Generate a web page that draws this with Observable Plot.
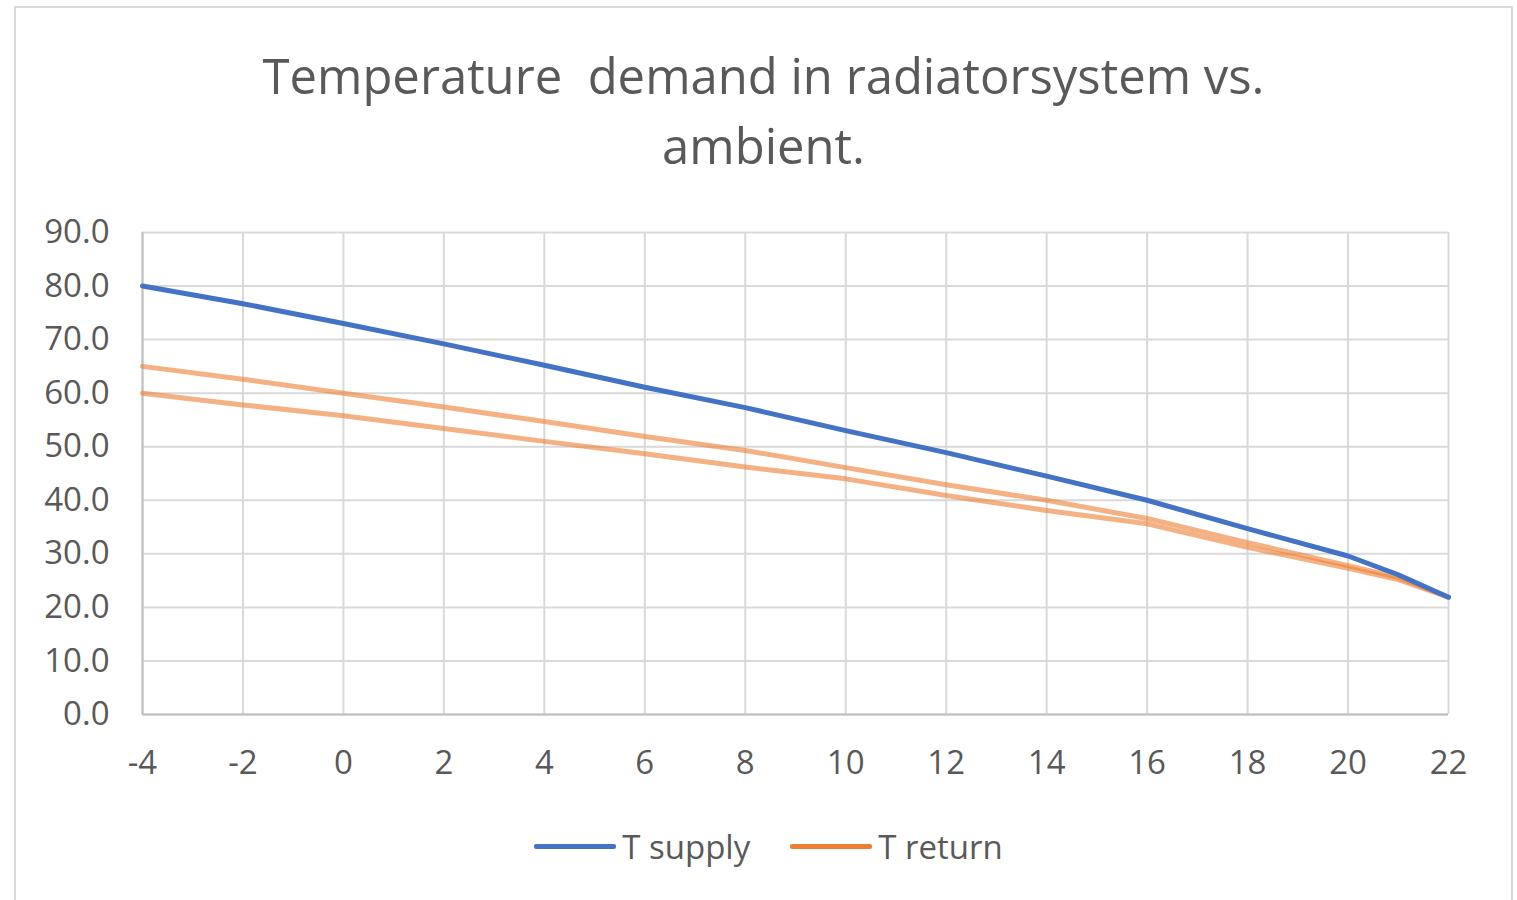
<!DOCTYPE html>
<html>
<head>
<meta charset="utf-8">
<script src="https://cdn.jsdelivr.net/npm/d3@7"></script>
<script src="https://cdn.jsdelivr.net/npm/@observablehq/plot@0.6"></script>
<style>
  body { margin: 0; background: #fff; font-family: "Open Sans", sans-serif; }
  #wrap { position: relative; width: 1517px; height: 900px; overflow: hidden; }
  #frame { position: absolute; left: 14px; top: 6px; width: 1499px; height: 900px; border: 2px solid #d9d9d9; box-sizing: border-box; }
  #title { position: absolute; left: 0; top: 40px; width: 1527px; text-align: center; color: #595959; font-size: 49px; line-height: 70px; white-space: pre; }
  #chart { position: absolute; left: 0; top: 200px; }
  #legend { position: absolute; left: 0; top: 824px; width: 1537px; display: flex; justify-content: center; align-items: center; gap: 40px; color: #595959; font-size: 33px; }
  .item { display: flex; align-items: center; gap: 6px; }
  .sw { width: 82px; height: 5px; border-radius: 2px; }
</style>
</head>
<body>
<div id="wrap">
  <div id="frame"></div>
  <div id="title">Temperature  demand in radiatorsystem vs.
ambient.</div>
  <div id="chart"></div>
  <div id="legend"></div>
</div>
<script>
const ambient   = [-4, -2, 0, 2, 4, 6, 8, 10, 12, 14, 16, 18, 20, 21, 22];
const tSupply   = [80.0, 76.7, 73.0, 69.2, 65.2, 61.1, 57.3, 53.0, 48.9, 44.5, 40.0, 34.7, 29.6, 26.1, 21.9];
const tReturnA  = [65.0, 62.6, 60.0, 57.4, 54.7, 51.9, 49.3, 46.1, 42.9, 40.0, 36.6, 32.1, 27.8, 25.6, 21.9];
const tReturnB  = [60.0, 57.8, 55.8, 53.4, 51.0, 48.7, 46.2, 44.0, 40.9, 38.1, 35.6, 31.2, 27.3, 25.2, 21.9];
const seriesNames = ["T supply", "T return"];
const seriesColors = ["#4472C4", "#ED7D31"];
const xTicks = [-4, -2, 0, 2, 4, 6, 8, 10, 12, 14, 16, 18, 20, 22];
const yTicks = [0, 10, 20, 30, 40, 50, 60, 70, 80, 90];

const rows = [];
ambient.forEach((x, i) => {
  rows.push({x, y: tSupply[i], series: "T supply", line: "supply"});
  rows.push({x, y: tReturnA[i], series: "T return", line: "returnA"});
  rows.push({x, y: tReturnB[i], series: "T return", line: "returnB"});
});

const chart = Plot.plot({
  width: 1517,
  height: 600,
  marginTop: 32,
  marginBottom: 86,
  marginLeft: 142,
  marginRight: 69,
  style: {fontFamily: "'Open Sans', sans-serif", fontSize: "33px", color: "#595959", background: "transparent"},
  x: {domain: [-4, 22], ticks: xTicks, tickSize: 0, tickPadding: 36, label: null, tickFormat: d => String(d)},
  y: {domain: [0, 90], ticks: yTicks, tickSize: 0, tickPadding: 33, label: null, tickFormat: d => d.toFixed(1)},
  color: {domain: seriesNames, range: seriesColors},
  marks: [
    Plot.gridX(xTicks, {stroke: "#d9d9d9", strokeOpacity: 1, strokeWidth: 2}),
    Plot.gridY(yTicks, {stroke: "#d9d9d9", strokeOpacity: 1, strokeWidth: 2}),
    Plot.ruleY([0], {stroke: "#bfbfbf", strokeWidth: 2}),
    Plot.ruleX([-4], {stroke: "#bfbfbf", strokeWidth: 2}),
    Plot.axisX({ticks: xTicks, tickSize: 0, tickPadding: 36, tickFormat: d => String(d), fill: "#595959"}),
    Plot.axisY({ticks: yTicks, tickSize: 0, tickPadding: 33, tickFormat: d => d.toFixed(1), fill: "#595959"}),
    Plot.line(rows.filter(d => d.series === "T return"), {x: "x", y: "y", z: "line", stroke: "series", strokeWidth: 5, strokeOpacity: 0.6}),
    Plot.line(rows.filter(d => d.series === "T supply"), {x: "x", y: "y", z: "line", stroke: "series", strokeWidth: 5})
  ]
});
document.getElementById("chart").appendChild(chart);

const legend = document.getElementById("legend");
seriesNames.forEach((name, i) => {
  const item = document.createElement("div");
  item.className = "item";
  const sw = document.createElement("div");
  sw.className = "sw";
  sw.style.background = seriesColors[i];
  const label = document.createElement("span");
  label.textContent = name;
  item.appendChild(sw);
  item.appendChild(label);
  legend.appendChild(item);
});
</script>
</body>
</html>
